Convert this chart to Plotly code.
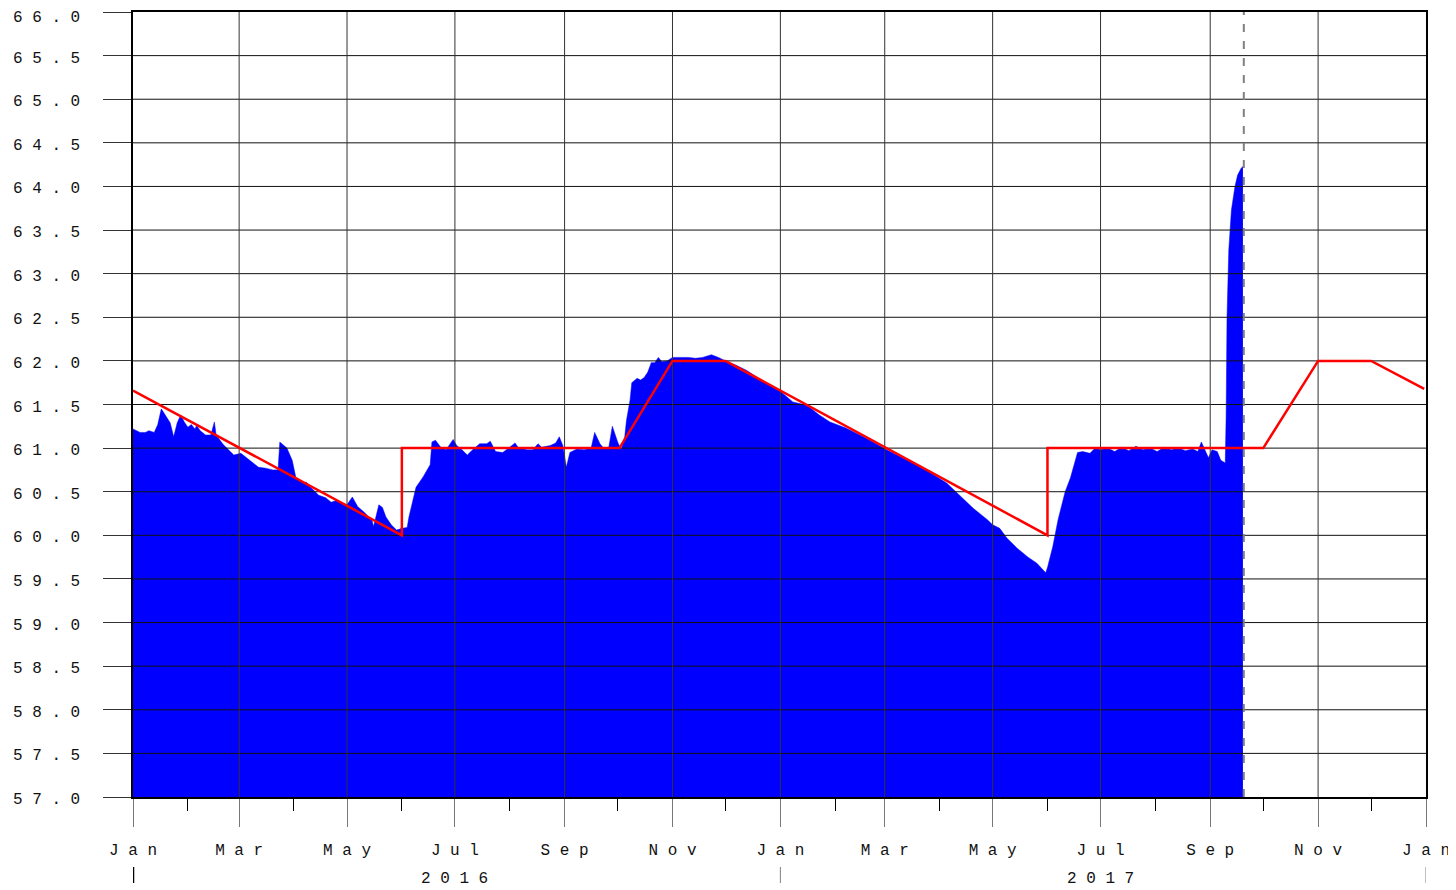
import plotly.graph_objects as go

# ---- data -------------------------------------------------------------
level_dates = [
    "2016-01-01", "2016-01-05", "2016-01-08", "2016-01-10", "2016-01-13", "2016-01-15",
    "2016-01-17", "2016-01-20", "2016-01-22", "2016-01-24", "2016-01-26", "2016-01-28",
    "2016-01-30", "2016-02-01", "2016-02-03", "2016-02-05", "2016-02-06", "2016-02-08",
    "2016-02-11", "2016-02-14", "2016-02-16", "2016-02-17", "2016-02-21", "2016-02-24",
    "2016-02-27", "2016-03-02", "2016-03-05", "2016-03-09", "2016-03-12", "2016-03-16",
    "2016-03-20", "2016-03-23", "2016-03-24", "2016-03-28", "2016-03-31", "2016-04-02",
    "2016-04-06", "2016-04-08", "2016-04-11", "2016-04-15", "2016-04-19", "2016-04-22",
    "2016-04-25", "2016-04-28", "2016-05-01", "2016-05-04", "2016-05-07", "2016-05-11",
    "2016-05-15", "2016-05-16", "2016-05-19", "2016-05-21", "2016-05-23", "2016-05-26",
    "2016-05-29", "2016-06-01", "2016-06-04", "2016-06-05", "2016-06-07", "2016-06-09",
    "2016-06-13", "2016-06-17", "2016-06-18", "2016-06-20", "2016-06-23", "2016-06-26",
    "2016-06-30", "2016-07-02", "2016-07-05", "2016-07-08", "2016-07-11", "2016-07-15",
    "2016-07-19", "2016-07-21", "2016-07-24", "2016-07-28", "2016-08-01", "2016-08-04",
    "2016-08-06", "2016-08-11", "2016-08-14", "2016-08-17", "2016-08-19", "2016-08-24",
    "2016-08-27", "2016-08-29", "2016-08-31", "2016-09-02", "2016-09-04", "2016-09-08",
    "2016-09-12", "2016-09-16", "2016-09-18", "2016-09-21", "2016-09-23", "2016-09-26",
    "2016-09-28", "2016-10-01", "2016-10-03", "2016-10-05", "2016-10-06", "2016-10-08",
    "2016-10-09", "2016-10-12", "2016-10-14", "2016-10-16", "2016-10-18", "2016-10-20",
    "2016-10-22", "2016-10-24", "2016-10-26", "2016-10-29", "2016-11-01", "2016-11-05",
    "2016-11-10", "2016-11-14", "2016-11-18", "2016-11-23", "2016-11-27", "2016-12-01",
    "2016-12-07", "2016-12-13", "2016-12-22", "2016-12-31", "2017-01-08", "2017-01-16",
    "2017-01-23", "2017-01-29", "2017-02-07", "2017-02-18", "2017-03-02", "2017-03-13",
    "2017-03-25", "2017-04-05", "2017-04-13", "2017-04-20", "2017-04-28", "2017-05-01",
    "2017-05-05", "2017-05-09", "2017-05-15", "2017-05-21", "2017-05-26", "2017-05-31",
    "2017-06-01", "2017-06-04", "2017-06-07", "2017-06-08", "2017-06-11", "2017-06-14",
    "2017-06-17", "2017-06-18", "2017-06-21", "2017-06-25", "2017-06-28", "2017-07-01",
    "2017-07-05", "2017-07-09", "2017-07-13", "2017-07-17", "2017-07-21", "2017-07-25",
    "2017-07-29", "2017-08-02", "2017-08-06", "2017-08-10", "2017-08-14", "2017-08-18",
    "2017-08-22", "2017-08-25", "2017-08-27", "2017-08-29", "2017-08-31", "2017-09-02",
    "2017-09-05", "2017-09-07", "2017-09-09 12:00", "2017-09-10 00:00", "2017-09-10 12:00",
    "2017-09-11 12:00", "2017-09-13", "2017-09-15", "2017-09-16 12:00", "2017-09-18 12:00",
    "2017-09-19 12:00",
]
level_values = [
    61.22, 61.18, 61.18, 61.20, 61.18, 61.27,
    61.45, 61.36, 61.29, 61.13, 61.29, 61.38,
    61.30, 61.24, 61.27, 61.22, 61.26, 61.20,
    61.15, 61.15, 61.30, 61.15, 61.04, 60.98,
    60.92, 60.94, 60.89, 60.83, 60.78, 60.77,
    60.75, 60.75, 61.07, 61.00, 60.86, 60.67,
    60.60, 60.61, 60.54, 60.46, 60.43, 60.38,
    60.40, 60.37, 60.35, 60.44, 60.33, 60.26,
    60.18, 60.10, 60.35, 60.32, 60.21, 60.12,
    60.06, 60.08, 60.09, 60.21, 60.40, 60.55,
    60.67, 60.81, 61.07, 61.09, 61.01, 60.98,
    61.10, 61.03, 60.98, 60.92, 60.98, 61.05,
    61.05, 61.08, 60.96, 60.95, 61.01, 61.06,
    61.00, 60.98, 60.98, 61.05, 61.01, 61.03,
    61.06, 61.13, 61.03, 60.78, 60.95, 60.99,
    60.98, 61.00, 61.18, 61.05, 61.00, 61.01,
    61.25, 61.07, 60.98, 61.13, 61.32, 61.55,
    61.75, 61.80, 61.78, 61.81, 61.87, 61.98,
    61.98, 62.04, 61.99, 62.00, 62.04, 62.04,
    62.04, 62.03, 62.04, 62.07, 62.04, 62.00,
    61.95, 61.89, 61.77, 61.67, 61.53, 61.49,
    61.38, 61.30, 61.23, 61.12, 60.98, 60.87,
    60.74, 60.60, 60.44, 60.31, 60.18, 60.12,
    60.08, 59.97, 59.85, 59.75, 59.68, 59.57,
    59.63, 59.87, 60.18, 60.26, 60.50, 60.66,
    60.86, 60.95, 60.96, 60.94, 61.00, 60.98,
    61.00, 60.96, 61.01, 60.97, 61.02, 60.98,
    61.00, 60.96, 61.01, 60.98, 61.00, 60.97,
    60.99, 60.96, 61.07, 60.98, 60.89, 60.98,
    60.96, 60.86, 60.83, 61.36, 62.50,
    63.27, 63.73, 64.00, 64.13, 64.21,
    64.23,
]

rule_dates = [
    "2016-01-01", "2016-06-01", "2016-06-01", "2016-10-02", "2016-11-01",
    "2016-12-01", "2017-06-01", "2017-06-01", "2017-10-01", "2017-11-01",
    "2017-12-01", "2017-12-31",
]
rule_values = [61.66, 60.0, 61.0, 61.0, 62.0, 62.0, 60.0, 61.0, 61.0, 62.0, 62.0, 61.68]

today_date = "2017-09-20"

y_ticks = [57.0, 57.5, 58.0, 58.5, 59.0, 59.5, 60.0, 60.5, 61.0, 61.5,
           62.0, 62.5, 63.0, 63.5, 64.0, 64.5, 65.0, 65.5, 66.0]
x_major = ["2016-01-01", "2016-03-01", "2016-05-01", "2016-07-01", "2016-09-01",
           "2016-11-01", "2017-01-01", "2017-03-01", "2017-05-01", "2017-07-01",
           "2017-09-01", "2017-11-01", "2018-01-01"]
x_major_text = ["Jan", "Mar", "May", "Jul", "Sep", "Nov",
                "Jan", "Mar", "May", "Jul", "Sep", "Nov", "Jan"]
x_minor = ["2016-02-01", "2016-04-01", "2016-06-01", "2016-08-01", "2016-10-01",
           "2016-12-01", "2017-02-01", "2017-04-01", "2017-06-01", "2017-08-01",
           "2017-10-01", "2017-12-01"]
years = ["2016", "2017"]
year_label_dates = ["2016-07-01", "2017-07-01"]
year_sep_dates = ["2016-01-01", "2017-01-01", "2018-01-01"]

X0, X1 = "2016-01-01", "2018-01-01"
Y0, Y1 = 57.0, 66.0
FONT = "Liberation Mono"
TEXT_COLOR = "#111111"
PLOT_H = 785


def spaced(s):
    return " ".join(list(s))


fig = go.Figure()

# blue area
fig.add_trace(go.Scatter(
    x=level_dates, y=level_values, mode="lines",
    line=dict(color="#0000ff", width=0.5),
    fill="tozeroy", fillcolor="#0000ff",
    hoverinfo="skip", showlegend=False,
))

# gridlines drawn above the area
gx, gy = [], []
for v in y_ticks[1:-1]:
    gx += [X0, X1, None]
    gy += [v, v, None]
fig.add_trace(go.Scatter(x=gx, y=gy, mode="lines", line=dict(color="#111111", width=1),
                         hoverinfo="skip", showlegend=False))
vx, vy = [], []
for d in x_major[1:-1]:
    vx += [d, d, None]
    vy += [Y0, Y1, None]
fig.add_trace(go.Scatter(x=vx, y=vy, mode="lines", line=dict(color="#333333", width=1),
                         hoverinfo="skip", showlegend=False))

# red rule curve
fig.add_trace(go.Scatter(
    x=rule_dates, y=rule_values, mode="lines",
    line=dict(color="#ff0000", width=2.5),
    hoverinfo="skip", showlegend=False,
))

# dashed "today" line
fig.add_shape(type="line", xref="x", yref="y", x0=today_date, x1=today_date,
              y0=Y0, y1=Y1, line=dict(color="#808080", width=2, dash="8px,9px"),
              layer="above")

# y-axis labels, left aligned at the figure edge
for v in y_ticks:
    fig.add_annotation(x=0, xref="paper", xshift=-121, xanchor="left",
                       y=v, yref="y", yshift=-6 if v == Y1 else -3, yanchor="middle",
                       height=14, valign="middle", borderpad=0,
                       text=spaced(f"{v:.1f}"), showarrow=False,
                       font=dict(family=FONT, size=16, color=TEXT_COLOR))

# year labels and separators
for yr, d in zip(years, year_label_dates):
    fig.add_annotation(x=d, xref="x", y=0, yref="paper", yshift=-82,
                       text=spaced(yr), showarrow=False, yanchor="middle",
                       font=dict(family=FONT, size=16, color=TEXT_COLOR))
for i, d in enumerate(year_sep_dates):
    fig.add_shape(type="line", xref="x", yref="paper", x0=d, x1=d,
                  y0=-70 / PLOT_H, y1=-86 / PLOT_H,
                  line=dict(color="#000000" if i == 0 else "#808080",
                            width=2.5 if i == 0 else 1))

# the page body adds an 8px offset, so the figure is 8px smaller on each axis
fig.update_layout(
    width=1448, height=882,
    margin=dict(l=125, r=30, t=4, b=93, pad=0, autoexpand=False),
    paper_bgcolor="white", plot_bgcolor="white",
    font=dict(family=FONT, size=16, color=TEXT_COLOR),
)

fig.update_xaxes(
    type="date", range=[X0, X1], automargin=False,
    tickmode="array", tickvals=x_major, ticktext=[spaced(t) for t in x_major_text],
    ticks="outside", ticklen=28, tickcolor="#777777", tickwidth=1,
    ticklabelstandoff=9, ticklabeloverflow="allow",
    minor=dict(tickmode="array", tickvals=x_minor, ticks="outside", ticklen=12,
               tickcolor="#000000", tickwidth=1, showgrid=False),
    showgrid=False, zeroline=False,
    showline=True, linecolor="#000000", linewidth=1.5, mirror=True,
    tickfont=dict(family=FONT, size=16, color=TEXT_COLOR),
)
fig.update_yaxes(
    range=[Y0, Y1], automargin=False,
    tickmode="array", tickvals=y_ticks, showticklabels=False,
    ticks="outside", ticklen=28, tickcolor="#333333", tickwidth=1,
    showgrid=False, zeroline=False,
    showline=True, linecolor="#000000", linewidth=1.5, mirror=True,
)

fig.write_html("out.html")
